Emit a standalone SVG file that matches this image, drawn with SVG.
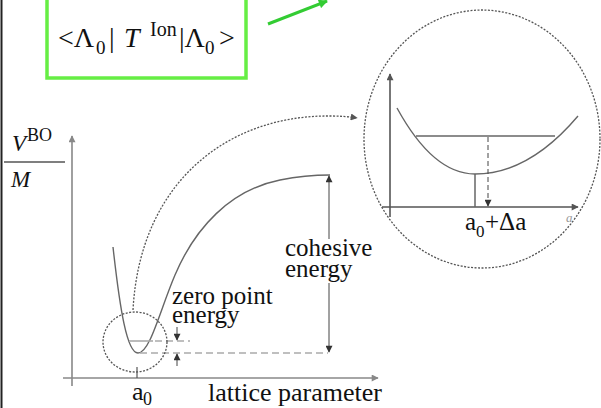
<svg xmlns="http://www.w3.org/2000/svg" width="601" height="408" viewBox="0 0 601 408">
<style>
.t{font-family:"Liberation Serif","Times New Roman",serif;fill:#111}
.ax{stroke:#888;stroke-width:1.6;fill:none}
.iax{stroke:#555;stroke-width:1.6;fill:none}
.crv{stroke:#666;stroke-width:1.4;fill:none}
.dc{stroke:#555;stroke-width:1.3;fill:none;stroke-dasharray:2 1.5}
.dh{stroke:#aaa;stroke-width:1.6;fill:none;stroke-dasharray:7 4}
.thin{stroke:#444;stroke-width:1;fill:none}
</style>
<defs>
<marker id="ag" viewBox="0 0 10 10" refX="9" refY="5" markerWidth="11" markerHeight="9" orient="auto" markerUnits="userSpaceOnUse"><path d="M0,0 L10,5 L0,10 z" fill="#33cc33"/></marker>
<marker id="ak" viewBox="0 0 10 10" refX="9" refY="5" markerWidth="8" markerHeight="7" orient="auto" markerUnits="userSpaceOnUse"><path d="M0,0 L10,5 L0,10 z" fill="#333"/></marker>
<marker id="ad" viewBox="0 0 10 10" refX="9" refY="5" markerWidth="8" markerHeight="7" orient="auto" markerUnits="userSpaceOnUse"><path d="M0,0 L10,5 L0,10 z" fill="#555"/></marker>
<marker id="ag2" viewBox="0 0 10 10" refX="9" refY="5" markerWidth="9" markerHeight="7" orient="auto" markerUnits="userSpaceOnUse"><path d="M0,0 L10,5 L0,10 z" fill="#888"/></marker>
</defs>
<rect width="601" height="408" fill="#fff"/>
<line x1="1.5" y1="0" x2="1.5" y2="408" stroke="#222" stroke-width="2"/>

<g id="formula">
<rect x="47" y="-5" width="199" height="83" fill="none" stroke="#66ee44" stroke-width="3.5"/>
<text class="t" font-size="28" x="58" y="47">&lt;Λ</text>
<text class="t" font-size="19" x="96" y="54">0</text>
<text class="t" font-size="28" x="109" y="47">|</text>
<text class="t" font-size="28" x="124" y="47" font-style="italic">T</text>
<text class="t" font-size="20" x="150" y="36">Ion</text>
<text class="t" font-size="28" x="179" y="47">|Λ</text>
<text class="t" font-size="19" x="205" y="54">0</text>
<text class="t" font-size="28" x="219" y="47">&gt;</text>
</g>

<g id="main-plot">
<line class="ax" x1="72" y1="386" x2="72" y2="136" marker-end="url(#ag2)"/>
<line class="ax" x1="63" y1="378" x2="378" y2="378" marker-end="url(#ag2)"/>
<text class="t" font-size="23" x="12" y="151" font-style="italic">V</text>
<text class="t" font-size="18" x="27" y="141">BO</text>
<line x1="4" y1="162" x2="65" y2="162" stroke="#555" stroke-width="1.5"/>
<text class="t" font-size="23" x="11" y="187" font-style="italic">M</text>
<path class="crv" d="M113,247 C120,310 127,353 138,353 C150,353 160,310 175,275 C195,228 230,190 280,180 C300,176 315,175 330,175"/>
<line x1="137" y1="367" x2="137" y2="378" stroke="#555" stroke-width="1.2"/>
<line x1="129" y1="341" x2="153" y2="341" stroke="#aaa" stroke-width="1.6"/>
<line class="dh" x1="155" y1="341" x2="190" y2="341"/>
<line class="dh" x1="140" y1="353" x2="328" y2="353"/>
<ellipse class="dc" cx="135" cy="342" rx="32" ry="30"/>
<text class="t" font-size="26" x="132" y="400">a</text>
<text class="t" font-size="18" x="143" y="405">0</text>
<text class="t" font-size="26" x="208" y="401">lattice parameter</text>
<text class="t" font-size="25" x="172" y="304">zero point</text>
<text class="t" font-size="25" x="172" y="323">energy</text>
<text class="t" font-size="25" x="285" y="256">cohesive</text>
<text class="t" font-size="25" x="285" y="277">energy</text>
</g>

<g id="zoom-inset">
<ellipse class="dc" cx="482" cy="139" rx="118" ry="129"/>
<line class="iax" x1="390" y1="217" x2="390" y2="74" marker-end="url(#ad)"/>
<line class="iax" x1="382" y1="207" x2="578" y2="207" marker-end="url(#ad)"/>
<path class="crv" d="M397,108 C420,150 445,174 475,174 C510,174 545,155 578,116"/>
<line x1="416" y1="136" x2="555" y2="136" stroke="#666" stroke-width="1.5"/>
<line x1="475" y1="174" x2="475" y2="207" stroke="#666" stroke-width="1.5"/>
<line x1="488" y1="137" x2="488" y2="206" stroke="#444" stroke-width="1" stroke-dasharray="5 3" marker-end="url(#ak)"/>
<text class="t" font-size="25" x="465" y="230">a</text>
<text class="t" font-size="17" x="476" y="237">0</text>
<text class="t" font-size="25" x="485" y="230">+Δa</text>
<text class="t" font-size="13" x="566" y="222" font-style="italic" style="fill:#999">a</text>
</g>

<g id="connectors">
<line x1="268" y1="24" x2="327" y2="1" stroke="#33cc33" stroke-width="3" marker-end="url(#ag)"/>
<path class="dc" d="M133,310 C140,180 230,115 330,116 Q345,116 357,118" marker-end="url(#ad)"/>
<line class="thin" x1="329" y1="239" x2="329" y2="176" marker-end="url(#ak)"/>
<line class="thin" x1="329" y1="283" x2="329" y2="352" marker-end="url(#ak)"/>
<line class="thin" x1="177" y1="327" x2="177" y2="340" marker-end="url(#ak)"/>
<line class="thin" x1="177" y1="366" x2="177" y2="354" marker-end="url(#ak)"/>
</g>
</svg>
